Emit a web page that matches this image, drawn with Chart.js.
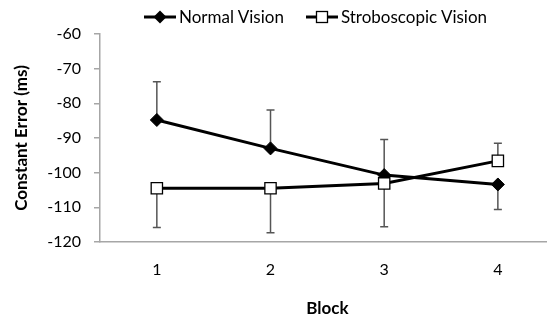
<!DOCTYPE html>
<html><head><meta charset="utf-8">
<script src="https://cdn.jsdelivr.net/npm/chart.js@4/dist/chart.umd.min.js"></script>
<style>
html,body{margin:0;padding:0;background:#fff;overflow:hidden;width:547px;height:323px;}
#wrap{position:relative;width:547px;height:323px;overflow:hidden;}
#legend{position:absolute;top:6px;left:144px;font-family:Lato,"Liberation Sans",sans-serif;font-size:17px;color:#000;display:flex;align-items:center;white-space:nowrap;}
#legend .item{display:flex;align-items:center;margin-right:22px;}
#legend svg{margin-right:3px;}
</style></head>
<body>
<div id="wrap">
<canvas id="c" width="564" height="323" style="display:block"></canvas>
<div id="legend">
 <div class="item"><svg width="32" height="16"><line x1="0" y1="8" x2="32" y2="8" stroke="#000" stroke-width="3"/><path d="M16 1.5 L22.5 8 L16 14.5 L9.5 8 Z" fill="#000"/></svg><span>Normal Vision</span></div>
 <div class="item"><svg width="32" height="16"><line x1="0" y1="8" x2="32" y2="8" stroke="#000" stroke-width="3"/><rect x="10.5" y="2.5" width="11" height="11" fill="#fff" stroke="#000" stroke-width="1.3"/></svg><span>Stroboscopic Vision</span></div>
</div>
</div>
<script>
const categories = ['1','2','3','4'];
const normalVision = [-84.8, -93.0, -100.7, -103.4];
const normalErrUp = [11.0, 11.1, 10.3, 0];
const normalErrDown = [0, 0, 0, 7.2];
const stroboVision = [-104.5, -104.5, -103.1, -96.6];
const stroboErrUp = [0, 0, 0, 5.1];
const stroboErrDown = [11.3, 12.8, 12.5, 0];
const yTicks = [-120, -110, -100, -90, -80, -70, -60];

const FONT = 'Lato, "Liberation Sans", sans-serif';

const errorBars = {
  id: 'errorBars',
  beforeDatasetsDraw(chart) {
    const ctx = chart.ctx;
    const y = chart.scales.y;
    ctx.save();
    ctx.strokeStyle = '#555';
    ctx.lineWidth = 1.5;
    chart.data.datasets.forEach((ds, i) => {
      const meta = chart.getDatasetMeta(i);
      meta.data.forEach((pt, j) => {
        const v = ds.data[j];
        const up = ds.errUp[j], dn = ds.errDown[j];
        [[up, 1], [dn, -1]].forEach(([e, s]) => {
          if (!e) return;
          const y0 = y.getPixelForValue(v);
          const y1 = y.getPixelForValue(v + s * e);
          ctx.beginPath();
          ctx.moveTo(pt.x, y0); ctx.lineTo(pt.x, y1);
          ctx.moveTo(pt.x - 4, y1); ctx.lineTo(pt.x + 4, y1);
          ctx.stroke();
        });
      });
    });
    ctx.restore();
  }
};

const chart = new Chart(document.getElementById('c'), {
  type: 'line',
  data: {
    labels: categories,
    datasets: [
      { label: 'Normal Vision', data: normalVision, errUp: normalErrUp, errDown: normalErrDown,
        borderColor: '#000', borderWidth: 3, pointStyle: 'rectRot', pointRadius: 6.5,
        pointBackgroundColor: '#000', pointBorderColor: '#000', pointBorderWidth: 1, order: 1 },
      { label: 'Stroboscopic Vision', data: stroboVision, errUp: stroboErrUp, errDown: stroboErrDown,
        borderColor: '#000', borderWidth: 3, pointStyle: 'rect', pointRadius: 8,
        pointBackgroundColor: '#fff', pointBorderColor: '#000', pointBorderWidth: 1.3, order: 0 }
    ]
  },
  options: {
    responsive: false,
    animation: false,
    devicePixelRatio: 1,
    layout: { padding: { left: 8, top: 34, right: 0, bottom: 4 } },
    plugins: { legend: { display: false }, tooltip: { enabled: false } },
    scales: {
      x: {
        offset: true,
        afterFit(scale) { scale.height = 77; },
        grid: { display: false, drawTicks: false },
        border: { display: true, color: '#a6a6a6', width: 1.5 },
        ticks: { font: { family: FONT, size: 16 }, color: '#000', padding: 18 },
        title: { display: true, text: 'Block', font: { family: FONT, size: 17, weight: 'bold' }, color: '#000', padding: { top: 0, bottom: 0 } }
      },
      y: {
        min: -120, max: -60,
        afterBuildTicks(scale) { scale.ticks = yTicks.map(v => ({ value: v })); },
        afterFit(scale) { scale.width = 92; },
        grid: { drawOnChartArea: false, drawTicks: true, tickLength: 6, color: '#a6a6a6', lineWidth: 1.5 },
        border: { display: true, color: '#a6a6a6', width: 1.5 },
        ticks: { font: { family: FONT, size: 16 }, color: '#000', padding: 13 },
        title: { display: true, text: 'Constant Error (ms)', font: { family: FONT, size: 17, weight: 'bold' }, color: '#000', padding: { top: 3, bottom: 0 } }
      }
    }
  },
  plugins: [errorBars]
});
</script>
</body></html>
